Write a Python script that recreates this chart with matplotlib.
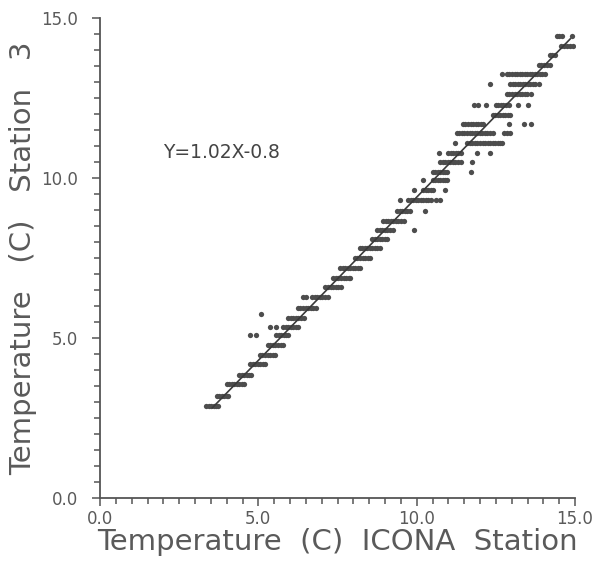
import matplotlib
matplotlib.use("Agg")
import matplotlib.pyplot as plt
from matplotlib.ticker import MultipleLocator, FixedLocator

# ---- data ----
row_y = [2.87, 3.20, 3.55, 3.84, 4.20, 4.47, 4.78, 5.08, 5.35, 5.62, 5.75,
         5.93, 6.28, 6.58, 6.88, 7.19, 7.50, 7.81, 8.08, 8.38, 8.66, 8.97,
         9.31, 9.63, 9.94, 10.19, 10.50, 10.78, 11.09, 11.40, 11.69, 11.97,
         12.28, 12.62, 12.93, 13.24, 13.52, 13.85, 14.12, 14.45]
row_x = [
    [3.35, 3.43, 3.51, 3.59, 3.67, 3.73],
    [3.68, 3.76, 3.84, 3.92, 4.00, 4.05],
    [4.00, 4.08, 4.16, 4.24, 4.32, 4.40, 4.48, 4.56],
    [4.40, 4.48, 4.56, 4.64, 4.72, 4.78],
    [4.74, 4.82, 4.90, 4.98, 5.06, 5.14, 5.21],
    [5.05, 5.13, 5.21, 5.29, 5.37, 5.45, 5.52],
    [5.30, 5.38, 5.46, 5.54, 5.62, 5.70, 5.78],
    [4.74, 4.93, 5.56, 5.64, 5.72, 5.80, 5.88, 5.94],
    [5.37, 5.57, 5.78, 5.86, 5.94, 6.02, 6.10, 6.18, 6.26],
    [5.94, 6.02, 6.10, 6.18, 6.26, 6.34, 6.44],
    [5.08],
    [6.25, 6.33, 6.41, 6.49, 6.57, 6.65, 6.73, 6.82],
    [6.42, 6.52, 6.70, 6.78, 6.86, 6.94, 7.02, 7.10, 7.20],
    [7.12, 7.20, 7.28, 7.36, 7.44, 7.52, 7.60],
    [7.37, 7.45, 7.53, 7.61, 7.69, 7.77, 7.85, 7.90],
    [7.58, 7.66, 7.74, 7.82, 7.90, 7.98, 8.06, 8.14, 8.20],
    [8.05, 8.13, 8.21, 8.29, 8.37, 8.45, 8.53],
    [8.20, 8.28, 8.36, 8.44, 8.52, 8.60, 8.68, 8.76, 8.84],
    [8.60, 8.68, 8.76, 8.84, 8.92, 9.00, 9.05],
    [8.75, 8.83, 8.91, 8.99, 9.07, 9.15, 9.24, 9.90],
    [8.94, 9.02, 9.10, 9.18, 9.26, 9.34, 9.42, 9.50, 9.60],
    [9.38, 9.46, 9.54, 9.62, 9.70, 9.80, 10.26],
    [9.47, 9.73, 9.81, 9.89, 9.97, 10.05, 10.13, 10.21, 10.29, 10.37, 10.45, 10.60, 10.75],
    [9.90, 10.20, 10.28, 10.36, 10.44, 10.50, 10.90],
    [10.20, 10.50, 10.58, 10.66, 10.74, 10.82, 10.90, 10.95],
    [10.50, 10.58, 10.66, 10.74, 10.82, 10.90, 10.95, 11.70],
    [10.74, 10.82, 10.90, 10.98, 11.06, 11.14, 11.22, 11.30, 11.40, 11.75],
    [10.70, 11.00, 11.08, 11.16, 11.24, 11.32, 11.40, 11.90, 12.30],
    [11.20, 11.60, 11.68, 11.76, 11.84, 11.92, 12.00, 12.08, 12.16, 12.24, 12.32,
     12.40, 12.48, 12.56, 12.64, 12.70],
    [11.27, 11.35, 11.43, 11.51, 11.59, 11.67, 11.75, 11.83, 11.91, 11.99, 12.07,
     12.15, 12.23, 12.31, 12.40, 12.75, 12.85, 12.95],
    [11.46, 11.54, 11.62, 11.70, 11.78, 11.86, 11.94, 12.02, 12.10, 12.90, 13.38, 13.60],
    [12.40, 12.48, 12.56, 12.64, 12.72, 12.80, 12.88, 12.95],
    [11.80, 11.95, 12.20, 12.50, 12.58, 12.66, 12.74, 12.82, 12.90, 13.20, 13.50],
    [12.85, 12.93, 13.01, 13.09, 13.17, 13.25, 13.33, 13.41, 13.49, 13.60],
    [12.30, 12.95, 13.03, 13.11, 13.19, 13.27, 13.35, 13.43, 13.51, 13.59, 13.67,
     13.75, 13.85],
    [12.70, 12.85, 12.93, 13.01, 13.09, 13.17, 13.25, 13.33, 13.41, 13.49, 13.57,
     13.65, 13.73, 13.81, 13.89, 13.97, 14.05],
    [13.85, 13.93, 14.01, 14.10, 14.20],
    [14.20, 14.28, 14.37],
    [14.55, 14.65, 14.75, 14.85, 14.93],
    [14.42, 14.50, 14.58, 14.90],
]
fit_slope = 1.02
fit_intercept = -0.8
fit_x_range = [3.55, 14.85]
equation_label = "Y=1.02X-0.8"
x_ticks = [0.0, 5.0, 10.0, 15.0]
y_ticks = [0.0, 5.0, 10.0, 15.0]
tick_labels = ["0.0", "5.0", "10.0", "15.0"]
x_title = "Temperature  (C)  ICONA  Station"
y_title = "Temperature   (C)   Station   3"

# ---- flatten points ----
xs, ys = [], []
for yv, xr in zip(row_y, row_x):
    for xv in xr:
        xs.append(xv)
        ys.append(yv)

ink = "#555555"
dot = "#4d4d4d"
txt = "#5a5a5a"

fig = plt.figure(figsize=(5.94, 5.61), dpi=100)
ax = fig.add_axes([100/594, 1-498/561, 475/594, 480/561])

ax.plot(xs, ys, linestyle="none", marker="o", markersize=3.8,
        markerfacecolor=dot, markeredgecolor=dot, markeredgewidth=0)
fx = fit_x_range
fy = [fit_slope * v + fit_intercept for v in fx]
ax.plot(fx, fy, color="#3a3a3a", linewidth=1.2)

ax.text(2.0, 10.8, equation_label, fontsize=13.5, color="#444444",
        ha="left", va="center")

ax.set_xlim(0, 15)
ax.set_ylim(0, 15)
for s in ["top", "right"]:
    ax.spines[s].set_visible(False)
for s in ["left", "bottom"]:
    ax.spines[s].set_color(ink)
    ax.spines[s].set_linewidth(1.3)

ax.xaxis.set_major_locator(FixedLocator(x_ticks))
ax.yaxis.set_major_locator(FixedLocator(y_ticks))
ax.set_xticklabels(tick_labels)
ax.set_yticklabels(tick_labels)
ax.xaxis.set_minor_locator(MultipleLocator(0.5))
ax.yaxis.set_minor_locator(MultipleLocator(0.5))
ax.tick_params(which="both", direction="out", color=ink, width=1.1)
ax.tick_params(which="major", length=6, labelsize=12, labelcolor=txt)
ax.tick_params(which="minor", length=4.5)
ax.tick_params(axis="x", which="major", pad=3)
ax.tick_params(axis="y", which="major", pad=10)

ax.set_xlabel(x_title, fontsize=21, color=txt, labelpad=0)
ax.set_ylabel(y_title, fontsize=21, color=txt, labelpad=3)

fig.savefig("out.png", dpi=100, facecolor="white")
